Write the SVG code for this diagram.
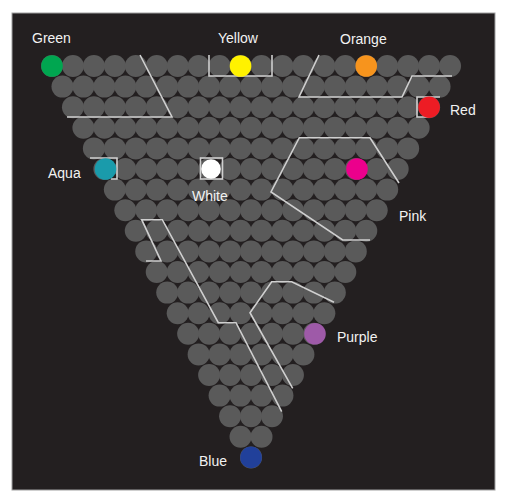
<svg xmlns="http://www.w3.org/2000/svg" xmlns:xlink="http://www.w3.org/1999/xlink" width="511" height="499" viewBox="0 0 511 499">
<style>
.bead{fill:#5a5a5a}
.lbl{font-family:"Liberation Sans",Arial,sans-serif;font-size:14px;fill:#f2f2f2}
.wall{fill:none;stroke:#cfcfcf;stroke-width:1.6;stroke-linejoin:miter}
</style>
<defs>
<g id="r1"><circle class="bead" r="11"/></g>
<g id="r2"><use href="#r1"/><circle class="bead" cx="20.95" r="11"/></g>
<g id="r3"><use href="#r2"/><circle class="bead" cx="41.9" r="11"/></g>
<g id="r4"><use href="#r3"/><circle class="bead" cx="62.85" r="11"/></g>
<g id="r5"><use href="#r4"/><circle class="bead" cx="83.8" r="11"/></g>
<g id="r6"><use href="#r5"/><circle class="bead" cx="104.75" r="11"/></g>
<g id="r7"><use href="#r6"/><circle class="bead" cx="125.7" r="11"/></g>
<g id="r8"><use href="#r7"/><circle class="bead" cx="146.65" r="11"/></g>
<g id="r9"><use href="#r8"/><circle class="bead" cx="167.6" r="11"/></g>
<g id="r10"><use href="#r9"/><circle class="bead" cx="188.55" r="11"/></g>
<g id="r11"><use href="#r10"/><circle class="bead" cx="209.5" r="11"/></g>
<g id="r12"><use href="#r11"/><circle class="bead" cx="230.45" r="11"/></g>
<g id="r13"><use href="#r12"/><circle class="bead" cx="251.4" r="11"/></g>
<g id="r14"><use href="#r13"/><circle class="bead" cx="272.35" r="11"/></g>
<g id="r15"><use href="#r14"/><circle class="bead" cx="293.3" r="11"/></g>
<g id="r16"><use href="#r15"/><circle class="bead" cx="314.25" r="11"/></g>
<g id="r17"><use href="#r16"/><circle class="bead" cx="335.2" r="11"/></g>
<g id="r18"><use href="#r17"/><circle class="bead" cx="356.15" r="11"/></g>
<g id="r19"><use href="#r18"/><circle class="bead" cx="377.1" r="11"/></g>
<g id="r20"><use href="#r19"/><circle class="bead" cx="398.05" r="11"/></g>
</defs>
<rect x="0" y="0" width="511" height="499" fill="#ffffff"/>
<rect x="12" y="13" width="483" height="477" fill="#231f20" stroke="#a0a0a0" stroke-width="1"/>
<g id="grid">
<use href="#r20" x="52" y="66"/>
<use href="#r19" x="62.475" y="86.6"/>
<use href="#r18" x="72.95" y="107.2"/>
<use href="#r17" x="83.425" y="127.8"/>
<use href="#r16" x="93.9" y="148.4"/>
<use href="#r15" x="104.375" y="169"/>
<use href="#r14" x="114.85" y="189.6"/>
<use href="#r13" x="125.325" y="210.2"/>
<use href="#r12" x="135.8" y="230.8"/>
<use href="#r11" x="146.275" y="251.4"/>
<use href="#r10" x="156.75" y="272"/>
<use href="#r9" x="167.225" y="292.6"/>
<use href="#r8" x="177.7" y="313.2"/>
<use href="#r7" x="188.175" y="333.8"/>
<use href="#r6" x="198.65" y="354.4"/>
<use href="#r5" x="209.125" y="375"/>
<use href="#r4" x="219.6" y="395.6"/>
<use href="#r3" x="230.075" y="416.2"/>
<use href="#r2" x="240.55" y="436.8"/>
<use href="#r1" x="251.025" y="457.4"/>
</g>
<g id="connectors">
<polyline class="wall" points="140,55 172,117 67,117"/>
<polyline class="wall" points="209,55 209,76 272,76 272,55"/>
<polyline class="wall" points="319,55 299,97 402,97 412,76 452,76"/>
<polyline class="wall" points="440,97 417,97 417,117 429,117"/>
<polyline class="wall" points="90,158 117,158 117,179 111,179"/>
<rect class="wall" x="200.5" y="158" width="22" height="21"/>
<polyline class="wall" points="399,183 370,137.7 299.3,137.7 271,192 342.7,240 370,240"/>
<polyline class="wall" points="146,261 161,261 141.7,219.7 162.3,219.7 218.3,322.7 236,322.7 281.7,411.7"/>
<polyline class="wall" points="334,302.3 291.7,281.7 271.7,281.7 250,312.7 292.7,388.3"/>
</g>
<g id="green"><circle cx="52" cy="66" r="10.8" fill="#00a650"/><text class="lbl" x="32" y="43">Green</text></g>
<g id="yellow"><circle cx="240.55" cy="66" r="10.8" fill="#fff200"/><text class="lbl" x="218" y="43">Yellow</text></g>
<g id="orange"><circle cx="366.25" cy="66" r="10.8" fill="#f7941d"/><text class="lbl" x="340" y="44">Orange</text></g>
<g id="red"><circle cx="429.1" cy="107.2" r="10.8" fill="#ed1c24"/><text class="lbl" x="450" y="115">Red</text></g>
<g id="aqua"><circle cx="105.5" cy="169" r="10.8" fill="#1a9bab"/><text class="lbl" x="48" y="178">Aqua</text></g>
<g id="white"><circle cx="211" cy="169" r="9.8" fill="#ffffff"/><text class="lbl" x="192" y="201">White</text></g>
<g id="pink"><circle cx="357" cy="169" r="10.8" fill="#ec008c"/><text class="lbl" x="399" y="221">Pink</text></g>
<g id="purple"><circle cx="315" cy="333.8" r="10.8" fill="#9e5aa8"/><text class="lbl" x="337" y="342">Purple</text></g>
<g id="blue"><circle cx="251.025" cy="457.4" r="10.8" fill="#21409a"/><text class="lbl" x="199" y="466">Blue</text></g>
</svg>
